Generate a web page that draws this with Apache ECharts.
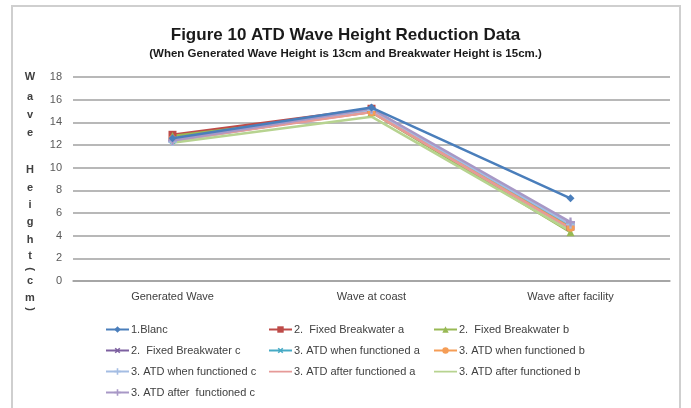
<!DOCTYPE html>
<html><head><meta charset="utf-8">
<script src="https://cdn.jsdelivr.net/npm/echarts@6/dist/echarts.min.js"></script>
<style>html,body{margin:0;padding:0;background:#fff}#c{width:691px;height:408px}</style>
</head><body><div id="c"></div>
<script>
const categories = ['Generated Wave', 'Wave at coast', 'Wave after facility'];
const seriesNames = ['1.Blanc', '2.  Fixed Breakwater a', '2.  Fixed Breakwater b', '2.  Fixed Breakwater c',
  '3. ATD when functioned a', '3. ATD when functioned b', '3. ATD when functioned c',
  '3. ATD after functioned a', '3. ATD after functioned b', '3. ATD after  functioned c'];
const blanc = [12.6, 15.3, 7.3];
const fixedA = [12.9, 15.2, 4.8];
const fixedB = [12.8, 14.9, 4.3];
const fixedC = [12.5, 15.1, 5.0];
const whenA = [12.4, 15.0, 4.9];
const whenB = [12.5, 14.9, 4.7];
const whenC = [12.3, 15.1, 5.0];
const afterA = [12.4, 14.9, 4.6];
const afterB = [12.2, 14.5, 4.4];
const afterC = [12.4, 15.2, 5.2];
const yTicks = [0, 2, 4, 6, 8, 10, 12, 14, 16, 18];
const values = [blanc, fixedA, fixedB, fixedC, whenA, whenB, whenC, afterA, afterB, afterC];

const colors = ['#4a7ebb', '#be4b48', '#98b954', '#7d60a0', '#46aac5', '#f59d56', '#a4bde3', '#e69a98', '#b7d390', '#a898c6'];
const plus = 'path://M3,0h2v8h-2zM0,3h8v2h-8z';
const symbols = ['diamond', 'rect', 'triangle', plus, plus, 'circle', plus, 'none', 'none', plus];
const rot = [0, 0, 0, 45, 45, 0, 0, 0, 0, 0];
const sizes = [8, 8, 8, 8, 8, 8, 9, 0, 0, 9];

const series = values.map((v, i) => ({
  name: seriesNames[i], type: 'line', data: v,
  symbol: symbols[i], symbolSize: sizes[i], symbolRotate: rot[i],
  lineStyle: { color: colors[i], width: 2.5 },
  itemStyle: { color: colors[i] },
  z: 2 + (i === 0 ? 10 : 0)
}));

const lineOnlyIcon = 'path://M0,0h0.01v0.01h-0.01zM0,3.3h23v1.6h-23zM22.99,7.99h0.01v0.01h-0.01z';
function legItem(i) {
  return symbols[i] === 'none' ? { name: seriesNames[i], icon: lineOnlyIcon } : seriesNames[i];
}
const legendCommon = {
  orient: 'vertical', itemWidth: 23, itemHeight: 8, itemGap: 10,
  textStyle: { fontSize: 11, color: '#404040', fontFamily: 'Liberation Sans', padding: [0, 0, 0, -3] },
  top: 319
};
const legends = [
  Object.assign({}, legendCommon, { left: 100, data: [0, 3, 6, 9].map(legItem) }),
  Object.assign({}, legendCommon, { left: 263, data: [1, 4, 7].map(legItem) }),
  Object.assign({}, legendCommon, { left: 428, data: [2, 5, 8].map(legItem) })
];

const yLetters = [['W', 77], ['a', 97], ['v', 115], ['e', 133], ['H', 170], ['e', 188], ['i', 205], ['g', 222], ['h', 240], ['t', 256], ['(', 269, true], ['c', 281], ['m', 298], [')', 309, true]];
const letterGraphics = yLetters.map(l => ({
  type: 'text', x: 30, y: l[1], rotation: l[2] ? -Math.PI / 2 : 0,
  style: { text: l[0], font: 'bold 11px "Liberation Sans"', fill: '#404040', textAlign: 'center', textVerticalAlign: 'middle' }
}));

const chart = echarts.init(document.getElementById('c'));
chart.setOption({
  backgroundColor: '#fff',
  animation: false,
  title: [
    { text: 'Figure 10 ATD Wave Height Reduction Data', left: 'center', top: 22,
      textStyle: { fontSize: 17, fontWeight: 'bold', color: '#1a1a1a', fontFamily: 'Liberation Sans' } },
    { text: '(When Generated Wave Height is 13cm and Breakwater Height is 15cm.)', left: 'center', top: 43,
      textStyle: { fontSize: 11.5, fontWeight: 'bold', color: '#1a1a1a', fontFamily: 'Liberation Sans' } }
  ],
  legend: legends,
  grid: { left: 73, right: 21, top: 77, bottom: 127 },
  xAxis: {
    type: 'category', data: categories, boundaryGap: true,
    axisLine: { lineStyle: { color: '#a0a0a0', width: 1.5 } },
    axisTick: { show: false },
    axisLabel: { fontSize: 11, color: '#404040', margin: 10, fontFamily: 'Liberation Sans' }
  },
  yAxis: {
    type: 'value', min: yTicks[0], max: yTicks[yTicks.length - 1], interval: 2,
    axisLine: { show: false }, axisTick: { show: false },
    axisLabel: { fontSize: 11, color: '#595959', margin: 11, fontFamily: 'Liberation Sans' },
    splitLine: { lineStyle: { color: '#a0a0a0', width: 1.5 } }
  },
  graphic: [
    { type: 'rect', shape: { x: 12, y: 6, width: 668, height: 410 }, style: { fill: 'none', stroke: '#cfcfcf', lineWidth: 2 }, silent: true }
  ].concat(letterGraphics),
  series: series
});
</script></body></html>
